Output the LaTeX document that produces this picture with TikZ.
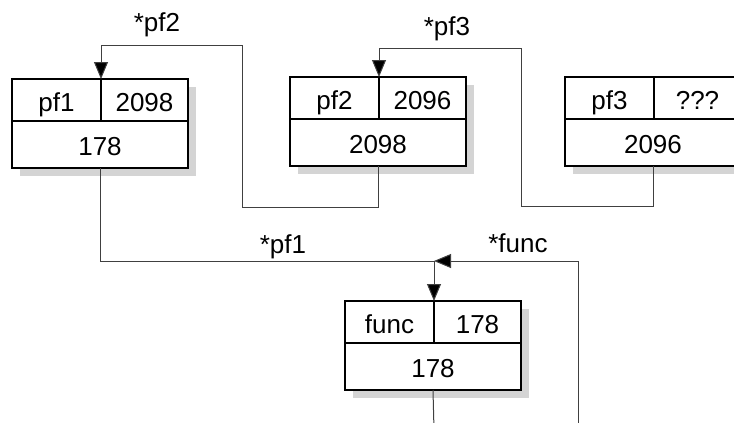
\documentclass[tikz,border=0pt]{standalone}
\usepackage{fontspec}
\setmainfont{Liberation Sans}
\usetikzlibrary{arrows.meta,positioning,shadows}
\begin{document}
\begin{tikzpicture}[x=0.5pt,y=-0.5pt,
  cell/.style={draw, line width=1pt, fill=white, inner sep=0pt, outer sep=0pt,
    text height=11pt, text depth=0pt, font=\fontsize{13}{15}\selectfont,
    drop shadow={shadow xshift=4pt, shadow yshift=-4pt, opacity=1, fill=black!17}},
  namecell/.style={cell, minimum width=44.5pt, minimum height=21pt},
  valcell/.style={cell, minimum width=43.5pt, minimum height=21pt},
  addrcell/.style={cell, minimum width=88pt, minimum height=23.5pt},
  link/.style={draw=black!75, line width=0.5pt},
  ptr/.style={link, -{Triangle[length=8.5pt,width=7pt,fill=black]}},
  lbl/.style={anchor=base, inner sep=0pt, font=\fontsize{13}{15}\selectfont}]
\clip (0,0) rectangle (734,423);
% pf1
\node[namecell, anchor=north west] (pf1n) at (12,79) {pf1};
\node[valcell, right=0pt of pf1n] (pf1v) {2098};
\node[addrcell, anchor=north west] (pf1a) at (pf1n.south west) {178};
% pf2
\node[namecell, anchor=north west] (pf2n) at (290,77) {pf2};
\node[valcell, right=0pt of pf2n] (pf2v) {2096};
\node[addrcell, anchor=north west] (pf2a) at (pf2n.south west) {2098};
% pf3
\node[namecell, anchor=north west] (pf3n) at (565,77) {pf3};
\node[valcell, right=0pt of pf3n] (pf3v) {???};
\node[addrcell, anchor=north west] (pf3a) at (pf3n.south west) {2096};
% func
\node[namecell, anchor=north west] (funcn) at (345,301) {func};
\node[valcell, right=0pt of funcn] (funcv) {178};
\node[addrcell, anchor=north west] (funca) at (funcn.south west) {178};
% pointers
\coordinate (pf2low) at (242,207);
\coordinate (pf2top) at (101,45);
\coordinate (pf3low) at (521,206);
\coordinate (pf3top) at (379,48);
\coordinate (pf1low) at (434,261);
\coordinate (funcin) at (578,430);
\coordinate (funcend) at (434,430);
\draw[ptr] (pf2a.south) |- (pf2low) |- (pf2top) -- (pf1n.north east);
\draw[ptr] (pf3a.south) |- (pf3low) |- (pf3top) -- (pf2n.north east);
\draw[ptr] (pf1a.south) |- (pf1low) -- (funcn.north east);
\draw[ptr] (funcin) |- (pf1low);
\draw[link] (funca.south) -- (funcend);
% labels
\node[lbl] (pf2lbl) at (157,32) {*pf2};
\node[lbl] (pf3lbl) at (447,35) {*pf3};
\node[lbl] (pf1lbl) at (283,253) {*pf1};
\node[lbl] (funclbl) at (518,252) {*func};
\end{tikzpicture}
\end{document}
